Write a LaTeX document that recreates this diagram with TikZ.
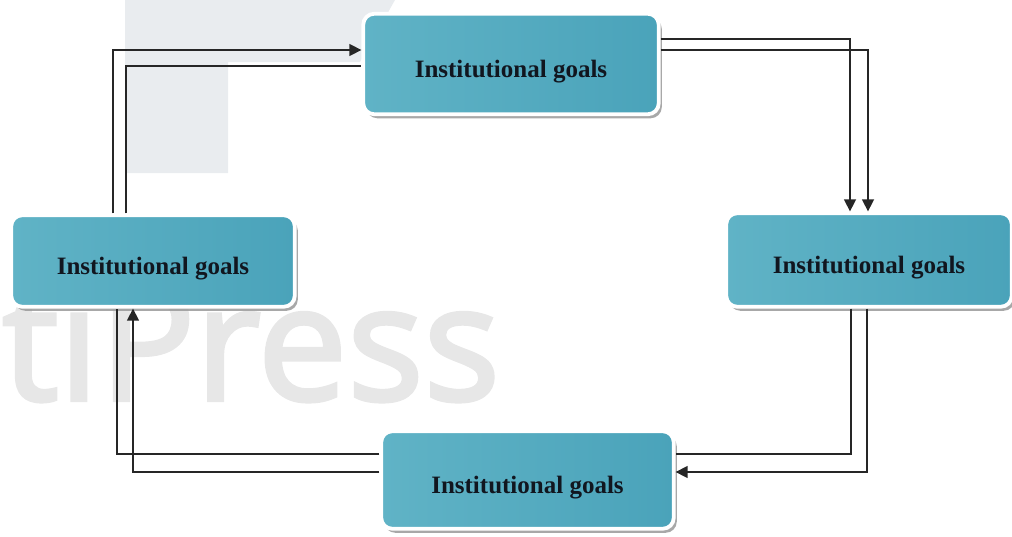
\documentclass[tikz,border=0pt]{standalone}
\usepackage{fontspec}
\setmainfont{Liberation Serif}
\newfontface\wmfont[FakeBold=2.5]{Open Sans}
\usetikzlibrary{arrows.meta,shadows}
\definecolor{tealA}{HTML}{60B3C6}
\definecolor{tealB}{HTML}{4AA3BA}
\definecolor{lineC}{HTML}{262626}
\definecolor{txtC}{HTML}{11161F}
\definecolor{wmC}{HTML}{E7E7E7}
\definecolor{wmR}{HTML}{E9ECEF}
\begin{document}
\begin{tikzpicture}[x=1pt,y=-1pt,
  goalbox/.style={rounded corners=11pt, draw=white, line width=3.8pt,
    left color=tealA, right color=tealB, inner sep=0pt,
    text height=27pt, text depth=0pt,
    text=txtC, font=\fontsize{25}{30}\selectfont\bfseries,
    drop shadow={shadow xshift=3pt, shadow yshift=-4pt, fill=black!40, opacity=0.85}},
  link/.style={draw=lineC, line width=1.5pt},
  arr/.style={link, -{Triangle[length=12pt,width=12pt]}}]
\useasboundingbox (0,0) rectangle (1012,536);

% faint watermark (behind)
\fill[wmR] (125,0) -- (395,0) -- (360,62) -- (228,62) -- (228,173) -- (125,173) -- cycle;
\node[anchor=base west, inner sep=0pt, text=wmC,
  font=\wmfont\fontsize{160}{160}\selectfont] (wmtext) at (2,400) {tiPress};

\node[goalbox, minimum width=295.5pt, minimum height=100.5pt] (T) at (511,64) {Institutional goals};
\node[goalbox, minimum width=283.5pt, minimum height=91.5pt] (L) at (153,261) {Institutional goals};
\node[goalbox, minimum width=285.5pt, minimum height=93.5pt] (R) at (869,260) {Institutional goals};
\node[goalbox, minimum width=292.5pt, minimum height=97.5pt] (B) at (527.5,480) {Institutional goals};

% left -> top
\draw[arr] ([xshift=-40pt]L.north) |- ([yshift=14pt]T.west);
\draw[link] ([xshift=-27pt]L.north) |- ([yshift=-2pt]T.west);
% top -> right
\draw[arr] ([yshift=25pt]T.east) -| ([xshift=-19pt]R.north);
\draw[arr] ([yshift=14pt]T.east) -| ([xshift=-1pt]R.north);
% right -> bottom
\draw[link] ([xshift=-18pt]R.south) |- ([yshift=26pt]B.east);
\draw[arr] ([xshift=-2pt]R.south) |- ([yshift=8pt]B.east);
% bottom -> left
\draw[link] ([yshift=26pt]B.west) -| ([xshift=-36pt]L.south);
\draw[arr] ([yshift=8pt]B.west) -| ([xshift=-20pt]L.south);
\end{tikzpicture}
\end{document}
